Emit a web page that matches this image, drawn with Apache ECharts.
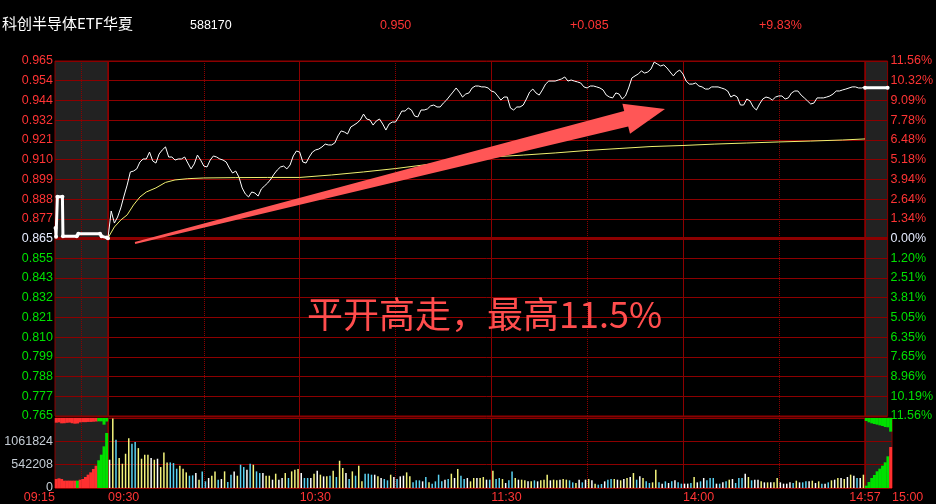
<!DOCTYPE html>
<html>
<head>
<meta charset="utf-8">
<title>科创半导体ETF华夏 分时</title>
<style>
  html, body { margin: 0; padding: 0; background: #000; }
  #main { width: 936px; height: 504px; }
</style>
</head>
<body>
<div id="main"></div>
<script src="https://cdn.jsdelivr.net/npm/echarts@6.0.0/dist/echarts.min.js"></script>
<script>
// 头部信息
const stockName = '科创半导体ETF华夏'
const stockCode = '588170'
const lastPrice = '0.950'
const priceChange = '+0.085'
const pctChange = '+9.83%'
const noteText = '平开高走，最高11.5%'

// 昨收 / 价格轴范围
const prevClose = 0.865
const priceMin = 0.765
const priceMax = 0.965
const volMax = 1600000

// 左右刻度文字 (从下到上)
const priceLabels = ['0.765', '0.777', '0.788', '0.799', '0.810', '0.821', '0.832', '0.843', '0.855', '0.865',
    '0.877', '0.888', '0.899', '0.910', '0.921', '0.932', '0.944', '0.954', '0.965']
const pctLabels = ['11.56%', '10.19%', '8.96%', '7.65%', '6.35%', '5.05%', '3.81%', '2.51%', '1.20%', '0.00%',
    '1.34%', '2.64%', '3.94%', '5.18%', '6.48%', '7.78%', '9.09%', '10.32%', '11.56%']
const volLabels = ['0', '542208', '1061824', '']

// 时间刻度 (连续交易分钟)
const tickMinutes = [0, 60, 120, 180, 237]
const tickTexts = ['09:30', '10:30', '11:30', '14:00', '14:57']
const dottedMinutes = [30, 90, 150, 210]

// 集合竞价 9:15-9:25 (分钟)
const auctionTimes = [0.1, 0.2, 0.45, 1.4, 1.5, 4.1, 4.4, 8.5, 8.8, 9.8, 10]
const auctionPrices = [0.8709, 0.8660, 0.8885, 0.8885, 0.8662, 0.8662, 0.8677, 0.8677, 0.8662, 0.8655, 0.8652]
const auctionVol = [206000, 221000, 206000, 168000, 168000, 168000, 168000, 168000, 168000, 190000,
    206000, 251000, 305000, 358000, 434000, 510000, 633000, 762000, 952000, 1257000]
const auctionVolSide = 'rrrrrrrrgrrrrrrrgggg'.split('')
const auctionGap = [107000, 100000, 122000, 120000, 110000, 105000, 120000, 130000, 125000, 100000,
    95000, 95000, 90000, 90000, 85000, 80000, 76000, 76000, 152000, 80000]
const auctionGapSide = 'rrrrrrrrrrrrrrrrgggg'.split('')

// 连续交易 分时价格 (每分钟)
const mainPrice = [
    0.8653, 0.8805, 0.8737, 0.8771, 0.8822, 0.8889, 0.8951, 0.9025, 0.9030, 0.9042,
    0.9081, 0.9098, 0.9098, 0.9137, 0.9087, 0.9075, 0.9126, 0.9149, 0.9166, 0.9109,
    0.9109, 0.9092, 0.9098, 0.9098, 0.9109, 0.9075, 0.9042, 0.9070, 0.9120, 0.9092,
    0.9058, 0.9053, 0.9092, 0.9115, 0.9109, 0.9098, 0.9092, 0.9081, 0.9047, 0.9019,
    0.9030, 0.8996, 0.8935, 0.8901, 0.8884, 0.8912, 0.8906, 0.8889, 0.8929, 0.8946,
    0.8963, 0.8985, 0.9013, 0.9036, 0.9053, 0.9058, 0.9042, 0.9064, 0.9115, 0.9143,
    0.9137, 0.9081, 0.9075, 0.9109, 0.9137, 0.9149, 0.9154, 0.9166, 0.9182, 0.9177,
    0.9177, 0.9188, 0.9228, 0.9256, 0.9250, 0.9239, 0.9278, 0.9289, 0.9301, 0.9318,
    0.9351, 0.9323, 0.9318, 0.9289, 0.9312, 0.9323, 0.9295, 0.9261, 0.9295, 0.9306,
    0.9306, 0.9335, 0.9368, 0.9368, 0.9385, 0.9374, 0.9340, 0.9335, 0.9374, 0.9374,
    0.9380, 0.9397, 0.9402, 0.9391, 0.9391, 0.9413, 0.9430, 0.9453, 0.9475, 0.9498,
    0.9475, 0.9447, 0.9464, 0.9470, 0.9498, 0.9509, 0.9509, 0.9504, 0.9504, 0.9498,
    0.9481, 0.9475, 0.9453, 0.9430, 0.9447, 0.9447, 0.9385, 0.9374, 0.9391, 0.9391,
    0.9402, 0.9436, 0.9475, 0.9492, 0.9470, 0.9458, 0.9487, 0.9520, 0.9537, 0.9537,
    0.9537, 0.9543, 0.9549, 0.9560, 0.9537, 0.9543, 0.9537, 0.9532, 0.9526, 0.9504,
    0.9498, 0.9509, 0.9509, 0.9504, 0.9498, 0.9487, 0.9458, 0.9447, 0.9442, 0.9470,
    0.9464, 0.9436, 0.9453, 0.9498, 0.9554, 0.9566, 0.9577, 0.9594, 0.9582, 0.9588,
    0.9605, 0.9644, 0.9633, 0.9622, 0.9628, 0.9611, 0.9588, 0.9566, 0.9588, 0.9599,
    0.9577, 0.9537, 0.9520, 0.9520, 0.9526, 0.9509, 0.9504, 0.9492, 0.9492, 0.9504,
    0.9504, 0.9504, 0.9498, 0.9492, 0.9481, 0.9447, 0.9458, 0.9447, 0.9402, 0.9402,
    0.9436, 0.9425, 0.9391, 0.9374, 0.9408, 0.9436, 0.9447, 0.9442, 0.9430, 0.9447,
    0.9453, 0.9453, 0.9436, 0.9442, 0.9470, 0.9481, 0.9481, 0.9458, 0.9442, 0.9425,
    0.9408, 0.9413, 0.9442, 0.9442, 0.9442, 0.9447, 0.9453, 0.9464, 0.9481, 0.9481,
    0.9487, 0.9492, 0.9498, 0.9504, 0.9504, 0.9498, 0.9498, 0.9504
]

// 均价线
const avgTimes = [0, 2, 4, 6, 8, 10, 12, 15, 18, 21, 25, 30, 40, 50, 60, 70, 80, 90, 100, 110,
    120, 130, 140, 150, 160, 170, 180, 190, 200, 210, 220, 230, 237]
const avgPrices = [0.8653, 0.8715, 0.8754, 0.8783, 0.8839, 0.8884, 0.8912, 0.8935, 0.8966, 0.8980,
    0.8987, 0.8991, 0.8993, 0.8994, 0.8994, 0.9008, 0.9025, 0.9044, 0.9067, 0.9087,
    0.9109, 0.9120, 0.9132, 0.9146, 0.9157, 0.9168, 0.9174, 0.9182, 0.9188, 0.9194,
    0.9199, 0.9205, 0.9211]

// 分钟成交量
const mainVol = [
    646000, 1590000, 1102000, 684000, 555000, 783000, 1140000, 1011000, 1049000, 912000,
    669000, 760000, 760000, 684000, 646000, 669000, 479000, 813000, 585000, 585000,
    570000, 441000, 509000, 441000, 357000, 281000, 289000, 342000, 190000, 380000,
    152000, 228000, 281000, 380000, 190000, 205000, 380000, 137000, 304000, 380000,
    281000, 532000, 479000, 418000, 555000, 532000, 380000, 342000, 342000, 281000,
    281000, 190000, 327000, 190000, 228000, 342000, 228000, 380000, 418000, 433000,
    342000, 228000, 228000, 228000, 327000, 395000, 304000, 266000, 266000, 281000,
    395000, 251000, 623000, 456000, 342000, 205000, 380000, 281000, 509000, 152000,
    327000, 327000, 304000, 304000, 266000, 228000, 205000, 175000, 304000, 251000,
    205000, 266000, 281000, 357000, 266000, 129000, 175000, 175000, 152000, 251000,
    129000, 99000, 152000, 304000, 152000, 190000, 205000, 327000, 228000, 433000,
    281000, 205000, 228000,
    152000, 228000, 228000, 228000, 251000, 190000, 190000, 395000, 205000, 228000,
    205000, 114000, 175000, 380000, 228000, 190000, 190000, 175000, 152000, 152000,
    175000, 152000, 175000, 190000, 304000, 175000, 190000, 175000, 190000, 205000,
    190000, 175000, 129000, 114000, 190000, 129000, 190000, 205000, 175000, 99000,
    76000, 91000, 152000, 190000, 205000, 205000, 190000, 175000, 205000, 228000,
    251000, 342000, 190000, 266000, 228000, 152000, 114000, 129000, 418000, 129000,
    99000, 152000, 114000, 152000, 175000, 129000, 99000, 99000, 99000, 114000,
    251000, 129000, 152000, 228000, 175000, 228000, 228000, 99000, 99000, 129000,
    152000, 190000, 205000, 114000, 228000, 228000, 327000, 251000, 175000, 190000,
    190000, 152000, 129000, 129000, 129000, 129000, 228000, 129000, 99000, 99000,
    129000, 114000, 167000, 129000, 129000, 152000, 152000, 167000, 114000, 152000,
    99000, 99000, 129000, 175000, 190000, 228000, 228000, 205000, 251000, 304000,
    281000, 228000, 228000, 304000
]
// 量柱颜色 y=黄 c=青 w=白
const mainVolTone = ('wycyyyyccy' + 'yyywywyyyc' + 'ccyyyccwyc' + 'cwyycwyccw' + 'yccwcyccwy' +
    'ywywwycyyy' + 'wccwywywyc' + 'ycyywcycyy' + 'cccwywccyw' + 'cwwyycccwc' + 'yccccwcywy' + 'ccw' +
    'yywyywcycc' + 'ywccywyywy' + 'cwyyywyywy' + 'yccywcwywy' + 'ccwccywywy' + 'wycwyccyyc' +
    'wcwcwccwwc' + 'ywcwcccwcw' + 'cywcccwycw' + 'wywywyywww' + 'wcywccwywy' + 'cwcywywywy' + 'wcwy').split('')

// 收盘集合竞价 14:57-15:00
const closeTimes = [0, 3]
const closePrices = [0.950, 0.950]
const closeVol = [53000, 137000, 229000, 297000, 381000, 442000, 510000, 587000, 724000, 937000]
const closeVolSide = 'gggggggggr'.split('')
const closeGap = [69000, 99000, 122000, 137000, 152000, 168000, 183000, 206000, 213000, 312000]

const RED = '#ff3434'
const GREEN = '#00e000'
const LINE = '#8c0000'
const GRAY = '#222222'
const tone = { r: '#ff3030', g: '#00e000', y: '#f4f47c', c: '#5ad2f2', w: '#ffffff' }

const myChart = echarts.init(document.querySelector('#main'))

function levelColor(v) {
    v = Number(v)
    if (v > 9) return RED
    if (v === 9) return '#e6ecff'
    return GREEN
}

// 刻度+网格线用的轴
function levelAxis(grid, max, extra) {
    return Object.assign({
        gridIndex: grid, type: 'value', min: 0, max: max, interval: 1,
        axisLine: { show: false }, axisTick: { show: false }, axisLabel: { show: false },
        splitLine: { show: true, lineStyle: { color: LINE, width: 1 } }
    }, extra)
}
// 数据用的隐藏轴
function dataAxis(grid, min, max, inverse) {
    return { gridIndex: grid, type: 'value', min: min, max: max, inverse: !!inverse, show: false }
}

// precision 要够, 否则 0.865 会被四舍五入成 0.86
const markBase = { silent: true, symbol: 'none', precision: 4, z: 1, label: { show: false }, animation: false }
const centerLine = { yAxis: prevClose, lineStyle: { color: LINE, width: 3, type: 'solid' } }
const dotted = v => ({ xAxis: v, lineStyle: { color: LINE, width: 1, type: 'dotted' } })

const option = {
    backgroundColor: '#000',
    animation: false,
    textStyle: { fontFamily: 'Liberation Sans, Noto Sans CJK SC' },
    title: [
        { text: stockName, left: 2, top: 16, padding: 0, textStyle: { color: '#fff', fontSize: 15, fontWeight: 'normal', fontFamily: 'Noto Sans CJK SC' } },
        { text: stockCode, left: 190, top: 19, padding: 0, textStyle: { color: '#fff', fontSize: 12.5, fontWeight: 'normal', fontFamily: 'Liberation Sans' } },
        { text: lastPrice, left: 380, top: 19, padding: 0, textStyle: { color: RED, fontSize: 12.5, fontWeight: 'normal', fontFamily: 'Liberation Sans' } },
        { text: priceChange, left: 570, top: 19, padding: 0, textStyle: { color: RED, fontSize: 12.5, fontWeight: 'normal', fontFamily: 'Liberation Sans' } },
        { text: pctChange, left: 759, top: 19, padding: 0, textStyle: { color: RED, fontSize: 12.5, fontWeight: 'normal', fontFamily: 'Liberation Sans' } }
    ],
    grid: [
        { left: 55, top: 61, width: 53, height: 355, show: true, backgroundColor: GRAY, borderColor: LINE, borderWidth: 1, containLabel: false },
        { left: 108, top: 61, width: 757, height: 355, show: true, backgroundColor: 'transparent', borderColor: LINE, borderWidth: 1, containLabel: false },
        { left: 865, top: 61, width: 27, height: 355, show: true, backgroundColor: GRAY, borderColor: LINE, borderWidth: 1, containLabel: false },
        { left: 55, top: 418, width: 53, height: 70, show: true, backgroundColor: GRAY, borderColor: LINE, borderWidth: 1, containLabel: false },
        { left: 108, top: 418, width: 757, height: 70, show: true, backgroundColor: 'transparent', borderColor: LINE, borderWidth: 1, containLabel: false },
        { left: 865, top: 418, width: 27, height: 70, show: true, backgroundColor: GRAY, borderColor: LINE, borderWidth: 1, containLabel: false }
    ],
    xAxis: [
        { gridIndex: 0, type: 'value', min: 0, max: 10, show: false },
        {
            gridIndex: 1, type: 'value', min: 0, max: 237, interval: 60,
            axisLine: { show: false }, axisTick: { show: false }, axisLabel: { show: false },
            splitLine: { show: true, lineStyle: { color: LINE } }
        },
        { gridIndex: 2, type: 'value', min: 0, max: 3, show: false },
        {
            gridIndex: 3, type: 'value', min: 0, max: 10, interval: 10,
            axisLine: { show: false }, axisTick: { show: false }, splitLine: { show: false },
            axisLabel: { formatter: v => (v === 0 ? '09:15' : ''), align: 'right', color: RED, fontSize: 12.5, margin: 3 }
        },
        {
            gridIndex: 4, type: 'value', min: 0, max: 237, interval: 60,
            axisLine: { show: false }, axisTick: { show: false },
            splitLine: { show: true, lineStyle: { color: LINE } },
            axisLabel: {
                formatter: v => { const i = tickMinutes.indexOf(v); return i < 0 ? '' : tickTexts[i] },
                align: 'left', alignMaxLabel: 'center', color: RED, fontSize: 12.5, margin: 3
            }
        },
        {
            gridIndex: 5, type: 'value', min: 0, max: 3, interval: 3,
            axisLine: { show: false }, axisTick: { show: false }, splitLine: { show: false },
            axisLabel: { formatter: v => (v === 3 ? '15:00' : ''), align: 'left', color: RED, fontSize: 12.5, margin: 3 }
        }
    ],
    yAxis: [
        levelAxis(0, 18, { axisLabel: { show: true, formatter: v => priceLabels[v], color: levelColor, fontSize: 12.5, margin: 2 } }),
        dataAxis(0, priceMin, priceMax),
        levelAxis(1, 18),
        dataAxis(1, priceMin, priceMax),
        levelAxis(2, 18, { position: 'right', axisLabel: { show: true, formatter: v => pctLabels[v], color: levelColor, fontSize: 12.5, margin: 3 } }),
        dataAxis(2, priceMin, priceMax),
        levelAxis(3, 3, { axisLabel: { show: true, formatter: v => volLabels[v], color: '#c4ccd4', fontSize: 12.5, margin: 2 } }),
        dataAxis(3, 0, volMax),
        dataAxis(3, 0, volMax, true),
        levelAxis(4, 3),
        dataAxis(4, 0, volMax),
        levelAxis(5, 3),
        dataAxis(5, 0, volMax),
        dataAxis(5, 0, volMax, true)
    ],
    series: [
        {
            // 集合竞价价格
            type: 'line', xAxisIndex: 0, yAxisIndex: 1, z: 3,
            data: auctionTimes.map((t, i) => [t, auctionPrices[i]]),
            symbol: 'circle', symbolSize: 4, showAllSymbol: true,
            lineStyle: { color: '#fff', width: 3 }, itemStyle: { color: '#fff' },
            markLine: Object.assign({}, markBase, { data: [centerLine, dotted(5)] })
        },
        {
            // 分时价格
            type: 'line', xAxisIndex: 1, yAxisIndex: 3, z: 3,
            data: mainPrice.map((p, i) => [i, p]),
            symbol: 'none', lineStyle: { color: '#fff', width: 1 },
            markLine: Object.assign({}, markBase, { data: [centerLine].concat(dottedMinutes.map(dotted)) })
        },
        {
            // 均价线
            type: 'line', xAxisIndex: 1, yAxisIndex: 3, z: 3,
            data: avgTimes.map((t, i) => [t, avgPrices[i]]),
            symbol: 'none', lineStyle: { color: '#f0f070', width: 1 }
        },
        {
            // 收盘竞价价格
            type: 'line', xAxisIndex: 2, yAxisIndex: 5, z: 3,
            data: closeTimes.map((t, i) => [t, closePrices[i]]),
            symbol: 'circle', symbolSize: 4, showAllSymbol: true,
            lineStyle: { color: '#fff', width: 3 }, itemStyle: { color: '#fff' },
            markLine: Object.assign({}, markBase, { data: [centerLine] })
        },
        {
            type: 'bar', xAxisIndex: 3, yAxisIndex: 7, barWidth: 3, barGap: '-100%',
            data: auctionVol.map((v, i) => ({ value: [i * 0.5 + 0.25, v], itemStyle: { color: tone[auctionVolSide[i]] } })),
            markLine: Object.assign({}, markBase, { data: [dotted(5)] })
        },
        {
            type: 'bar', xAxisIndex: 3, yAxisIndex: 8, barWidth: 3, barGap: '-100%',
            data: auctionGap.map((v, i) => ({ value: [i * 0.5 + 0.25, v], itemStyle: { color: tone[auctionGapSide[i]] } }))
        },
        {
            type: 'bar', xAxisIndex: 4, yAxisIndex: 10, barWidth: 1.5,
            data: mainVol.map((v, i) => ({ value: [i + 0.5, v], itemStyle: { color: tone[mainVolTone[i]] } })),
            markLine: Object.assign({}, markBase, { data: dottedMinutes.map(dotted) })
        },
        {
            type: 'bar', xAxisIndex: 5, yAxisIndex: 12, barWidth: 3, barGap: '-100%',
            data: closeVol.map((v, i) => ({ value: [i * 0.3 + 0.15, v], itemStyle: { color: tone[closeVolSide[i]] } }))
        },
        {
            type: 'bar', xAxisIndex: 5, yAxisIndex: 13, barWidth: 3, barGap: '-100%',
            data: closeGap.map((v, i) => ({ value: [i * 0.3 + 0.15, v], itemStyle: { color: tone.g } }))
        }
    ],
    graphic: [
        {
            // 箭头
            type: 'polygon', z: 100, silent: true,
            shape: { points: [[134.8, 242], [624.2, 111], [622.4, 103.8], [665, 109], [630, 133.8], [628.2, 126.6], [135.2, 244]] },
            style: { fill: '#ff5656' }
        },
        {
            type: 'text', z: 100, left: 307, top: 296, silent: true,
            style: { text: noteText, fill: '#ff4d4d', fontSize: 36, fontFamily: 'Noto Sans CJK SC' }
        }
    ]
}
myChart.setOption(option)
</script>
</body>
</html>
